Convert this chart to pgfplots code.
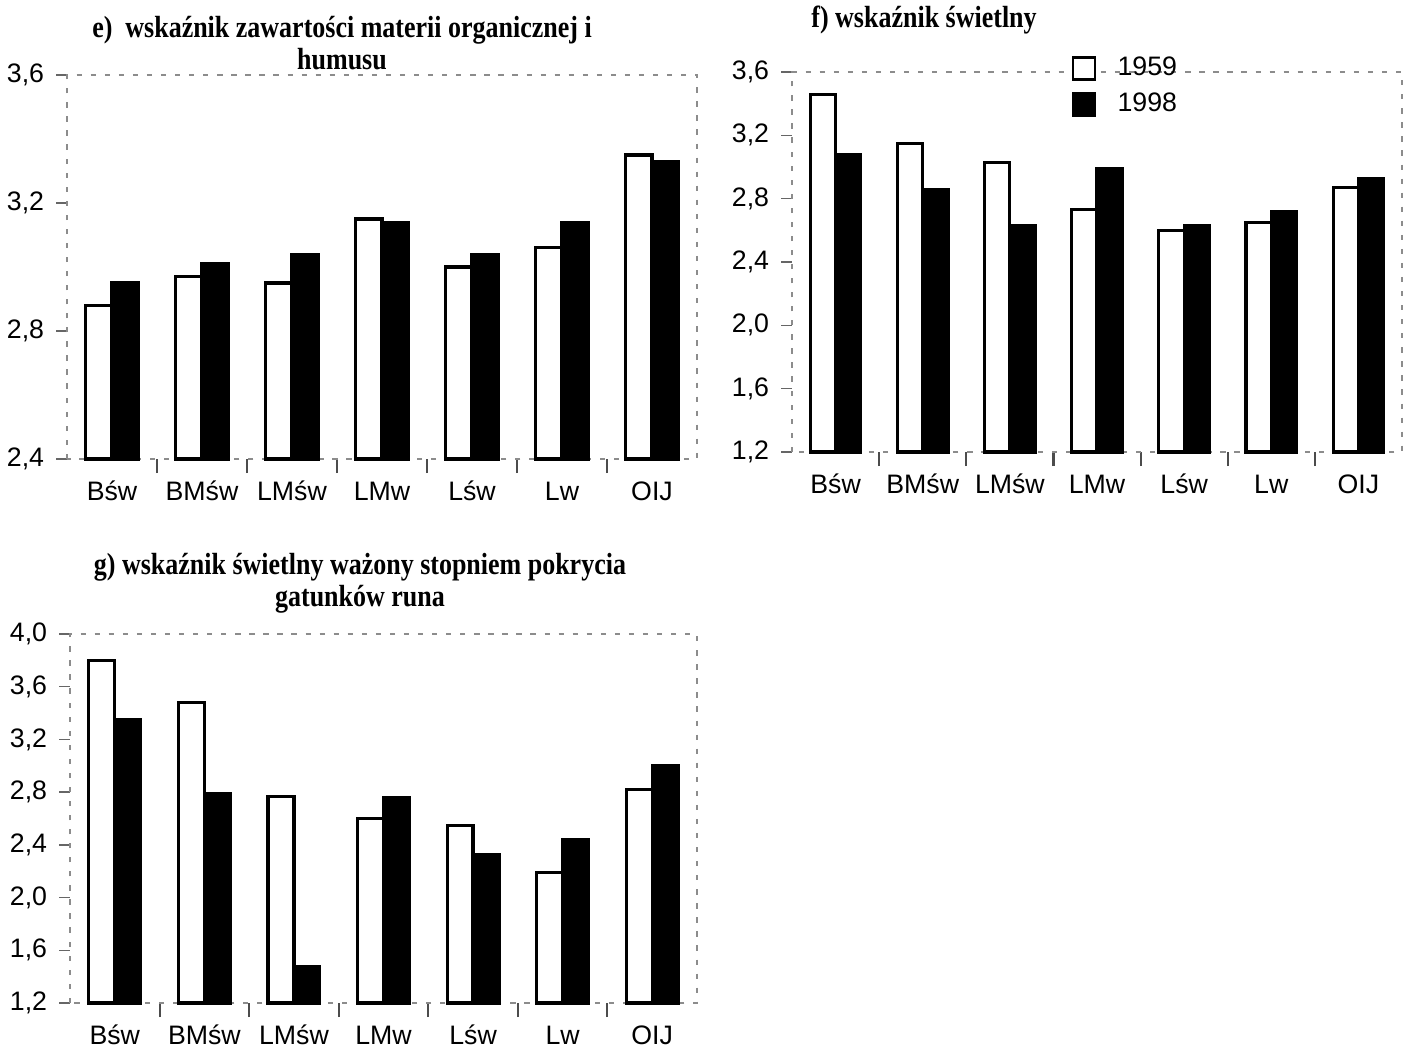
\documentclass[border=0pt]{standalone}
\usepackage{fontspec}
\setmainfont{Liberation Serif}
\setsansfont{Liberation Sans}
\newfontfamily\titlefont{Liberation Serif}[FakeStretch=0.85]
\usepackage{pgfplots}
\pgfplotsset{compat=1.18}
\tikzset{ttl/.style={font=\titlefont\bfseries\fontsize{8.7}{9.2}\selectfont}}
\begin{document}
\begin{tikzpicture}
\useasboundingbox (0,0) rectangle (14.07,-10.51);
\pgfplotsset{
  panel/.style={
    scale only axis, xmin=-0.5, xmax=6.5, ymin=0, clip=false,
    xtick={0,...,6}, xticklabels={Bśw,BMśw,LMśw,LMw,Lśw,Lw,OIJ},
    minor xtick={0.5,1.5,...,5.5},
    major x tick style={draw=none},
    minor x tick style={black!70, line width=0.6pt},
    minor tick length=4pt,
    tick align=outside,
    xtick pos=bottom, ytick pos=left,
    major tick length=3pt,
    ytick style={black!60, line width=0.4pt},
    axis line style={black!45, line width=0.5pt, dash pattern=on 1.5pt off 2.5pt},
    ticklabel style={font=\sffamily\fontsize{7.6}{8}\selectfont},
    xticklabel style={text height=1.5ex, text depth=0.1ex, yshift=1.5pt},
    bar width=0.29,
  },
  old/.style={ybar, bar shift=-0.145, fill=white, draw=black, line width=0.9pt},
  new/.style={ybar, bar shift=0.145, fill=black, draw=black, line width=0.9pt},
}
% ---------- e ----------
\begin{axis}[panel, at={(0.67cm,-4.59cm)}, anchor=south west,
  width=6.30cm, height=3.84cm, ymax=1.2,
  y filter/.expression={y-2.4},
  ytick={0,0.4,0.8,1.2}, yticklabels={{2,4},{2,8},{3,2},{3,6}}]
\addplot[old] coordinates {(0,2.88) (1,2.97) (2,2.95) (3,3.15) (4,3.00) (5,3.06) (6,3.35)};
\addplot[new] coordinates {(0,2.95) (1,3.01) (2,3.04) (3,3.14) (4,3.04) (5,3.14) (6,3.33)};
\end{axis}
\node[ttl, align=center] at (3.42,-0.43)
  {e)~~wskaźnik zawartości materii organicznej i\\humusu};
% ---------- f ----------
\begin{axis}[panel, at={(7.92cm,-4.52cm)}, anchor=south west,
  width=6.10cm, height=3.80cm, ymax=2.4,
  y filter/.expression={y-1.2},
  ytick={0,0.4,...,2.4}, yticklabels={{1,2},{1,6},{2,0},{2,4},{2,8},{3,2},{3,6}},
  legend style={draw=none, fill=none, at={(0.44,1.08)}, anchor=north west,
    font=\sffamily\fontsize{7.6}{8.5}\selectfont, row sep=-0.5pt,
    legend cell align=left,
    /tikz/every odd column/.append style={column sep=4pt}},
  legend image code/.code={\draw[#1, line width=0.8pt] (-0.13cm,-0.11cm) rectangle (0.09cm,0.11cm);}]
\addplot[old] coordinates {(0,3.46) (1,3.15) (2,3.03) (3,2.73) (4,2.60) (5,2.65) (6,2.87)};
\addplot[new] coordinates {(0,3.08) (1,2.86) (2,2.63) (3,2.99) (4,2.63) (5,2.72) (6,2.93)};
\legend{1959,1998}
\end{axis}
\node[ttl, anchor=west] at (7.99,-0.20)
  {f) wskaźnik świetlny};
% ---------- g ----------
\begin{axis}[panel, at={(0.70cm,-10.03cm)}, anchor=south west,
  width=6.27cm, height=3.69cm, ymax=2.8,
  y filter/.expression={y-1.2},
  ytick={0,0.4,...,2.8}, yticklabels={{1,2},{1,6},{2,0},{2,4},{2,8},{3,2},{3,6},{4,0}}]
\addplot[old] coordinates {(0,3.80) (1,3.48) (2,2.77) (3,2.60) (4,2.55) (5,2.19) (6,2.82)};
\addplot[new] coordinates {(0,3.35) (1,2.79) (2,1.48) (3,2.76) (4,2.33) (5,2.44) (6,3.00)};
\end{axis}
\node[ttl, align=center] at (3.60,-5.83)
  {g) wskaźnik świetlny ważony stopniem pokrycia\\gatunków runa};
\end{tikzpicture}
\end{document}
